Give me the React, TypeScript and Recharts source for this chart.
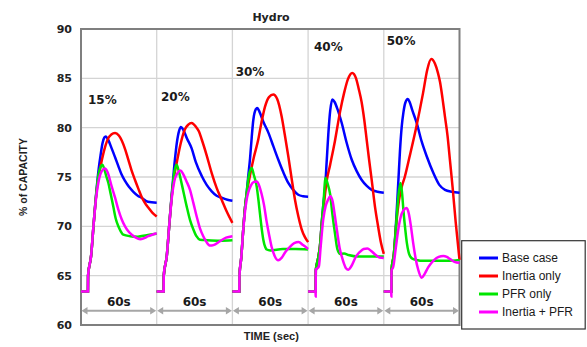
import React from 'react';
import { LineChart, Line, XAxis, YAxis, CartesianGrid, ReferenceLine, ReferenceDot, ReferenceArea } from 'recharts';

type Pt = [number, number];

// ---- data (time in seconds within each 60 s step, value in % of capacity) ----
const PANEL_SECONDS = 60;
const stepLabels = ['15%', '20%', '30%', '40%', '50%'];
const durationLabel = '60s';
const yTicks = [60, 65, 70, 75, 80, 85, 90];
const xTicks = [0, 60, 120, 180, 240, 300];
const seriesNames = ['Base case', 'Inertia only', 'PFR only', 'Inertia + PFR'];

const baseCase: Pt[][] = [
  [[0,63.4],[5.5,63.4],[5.6,65],[8,67],[10,70.2],[12,73.3],[14,75.8],[15.5,77.2],[17,78.4],[18.5,79],[19.6,79.1],[21,78.9],[24.3,77.9],[27,77],[29.6,76.1],[32,75.3],[34.9,74.6],[38,74],[41.5,73.5],[45,73.1],[48,72.9],[53,72.5],[60,72.4]],
  [[0,63.4],[5.5,63.4],[5.6,65],[8,67],[10,70.2],[12,73.4],[14,76.2],[16,78.5],[17.8,79.7],[19.2,80.07],[21,79.8],[24,78.9],[27.7,77.9],[31,76.5],[35.7,75.1],[39.6,74.2],[43.6,73.55],[47.5,73.1],[51.5,72.9],[56,72.7],[60,72.6]],
  [[0,63.4],[5.5,63.4],[5.6,65],[7,66.8],[8.6,69.7],[10,71.9],[11.3,73.4],[12.5,75],[14,76.9],[15.3,79],[16.5,80.7],[18,81.7],[19.7,82],[21.5,81.6],[24.5,80.6],[28.5,79.5],[32.5,78.1],[36.4,76.75],[40.3,75.5],[44.3,74.4],[48.2,73.7],[52.2,73.2],[56,73.05],[60,73]],
  [[0,63.4],[6,63.4],[6.1,65.5],[8,66.8],[9.4,68],[11,70.7],[12.2,72.4],[13.4,73.8],[14.7,76.5],[16,79.3],[17.5,81.7],[19.2,82.85],[21,82.6],[23.5,81.8],[26.6,80.5],[30.5,78.5],[34.6,76.75],[38.5,75.6],[42.5,74.7],[46.5,74.1],[50.4,73.7],[55,73.5],[60,73.4]],
  [[0,63.4],[6,63.4],[6.1,65.5],[8,67.2],[10,71],[11.5,74.5],[12.8,77.6],[14.2,80.1],[15.5,81.5],[17,82.5],[19,82.9],[20.5,82.6],[22.5,81.8],[26,80.5],[30,78.6],[34,77.1],[39.3,75.4],[44,74.2],[48.5,73.7],[54,73.5],[60,73.4]],
];

const inertiaOnly: Pt[][] = [
  [[0,63.4],[5.5,63.4],[5.6,65],[8,67],[10,70.2],[12,73.1],[14,75.1],[16,76.4],[19,78],[21.7,78.95],[24,79.3],[27,79.46],[30,79.2],[32.3,78.7],[35,77.8],[37.5,76.75],[40,75.7],[42.8,74.7],[45.5,73.8],[48,73],[50.5,72.4],[53.3,71.9],[56.5,71.4],[60,71]],
  [[0,63.4],[5.5,63.4],[5.6,65],[8,67],[10,70.2],[12,73.1],[14,75.2],[15.8,76.4],[19,78.4],[22.2,79.8],[25,80.3],[27.7,80.47],[31,80.1],[33.5,79.6],[35.7,78.8],[39.6,77.2],[43.6,75.4],[47.5,73.9],[51.5,72.7],[55.5,71.5],[60,70.35]],
  [[0,63.4],[5.5,63.4],[5.6,65],[7,66.8],[8.6,69.7],[10,71.9],[11.3,73.2],[12.5,74.2],[14,75.2],[17,77],[20.5,78.8],[23,80.5],[25.8,82.1],[29,83.1],[32.4,83.35],[35.5,82.9],[39,81.15],[41.5,79.3],[44.3,77.1],[47,74.8],[49.6,72.7],[52.3,71],[54.9,69.7],[57.5,68.9],[60,68.4]],
  [[0,63.4],[6,63.4],[6.1,65.5],[8,66.8],[9.4,68],[11,70.5],[12.5,72.2],[14.5,74.4],[17.4,76.2],[21.2,78.6],[25.3,81.6],[28.5,83.5],[31.5,84.9],[35,85.55],[38,85],[40,84],[42.4,82.6],[44.5,80.8],[46.4,78.8],[48.4,76.7],[50.4,74.7],[53,72],[55.6,69.9],[57.8,68.3],[60,67.2]],
  [[0,63.4],[6,63.4],[6.1,65.5],[8,67.2],[10,70.4],[12,72.6],[14,73.9],[16.6,75],[20.5,77.1],[25.8,80.1],[31.1,83.5],[34.5,85.9],[37.6,86.95],[40.5,86.5],[42.8,85.6],[44.6,84.6],[46.5,83],[48.5,81.1],[50.5,79.2],[52.5,76.6],[54.5,74],[57,70.4],[60,66.6]],
];

const pfrOnly: Pt[][] = [
  [[0,63.4],[5.5,63.4],[5.6,65],[8,67],[10,70.2],[12,73.2],[14,75.3],[15.5,76],[16.9,76.25],[18.5,75.8],[20,75.1],[21.7,74.4],[23.5,73.3],[25.6,72],[27.5,70.8],[29.6,70],[31.5,69.5],[33.5,69.15],[38.8,69],[45,68.95],[52,69.1],[60,69.25]],
  [[0,63.4],[5.5,63.4],[5.6,65],[8,67],[10,70.2],[12,73.2],[14,75.5],[15.8,76.25],[17.5,75.6],[20,74.2],[23.8,72],[26.5,70.6],[29,69.7],[31.5,69],[34.3,68.65],[40,68.6],[50,68.55],[60,68.6]],
  [[0,63.4],[5.5,63.4],[5.6,65],[7,66.8],[8.6,69.7],[10,71.9],[11.3,73.4],[13,75.1],[15.3,75.9],[17,75.2],[19.3,74],[20.7,72.6],[22,71.1],[23.3,69.7],[24.5,68.65],[26,67.9],[27.2,67.65],[30,67.55],[40,67.7],[50,67.7],[60,67.65]],
  [[0,63.4],[6,63.4],[6.1,65.5],[8,66.8],[9.4,68],[11,70.6],[12.2,72.4],[13.8,74.9],[15.5,74.3],[17.4,73.3],[19.3,71.2],[21.3,69.3],[23.2,67.7],[25.5,67.2],[28.5,67.25],[32,67.1],[40,66.95],[50,66.95],[60,66.95]],
  [[0,63.4],[6,63.4],[6.1,65.5],[8,67.2],[10,70.5],[11.5,73],[13.1,74.4],[14.3,73.6],[15.7,71.4],[17.1,69.6],[18.3,68.3],[19.6,67.4],[20.9,66.95],[23,66.7],[26,66.6],[30,66.5],[40,66.5],[50,66.5],[60,66.6]],
];

const inertiaPfr: Pt[][] = [
  [[0,63.4],[5.5,63.4],[5.6,65],[8,67],[10,70.2],[12,72.9],[14,74.6],[16.5,75.6],[19,75.85],[21,75.5],[24.3,74.05],[27,72.9],[29.6,71.7],[32.3,70.7],[34.9,70],[37.5,69.5],[40.2,69.15],[43.5,68.85],[46.8,68.7],[50,68.8],[53.3,69],[56.5,69.15],[60,69.3]],
  [[0,63.4],[5.5,63.4],[5.6,65],[8,67],[10,70.2],[12,72.9],[14,74.6],[16.5,75.4],[18.8,75.65],[21,75.3],[23.5,74.6],[26.4,73.7],[29,72.4],[31.7,71],[34.3,69.8],[36.9,69],[39.5,68.4],[42.2,68.05],[45,68.1],[50.2,68.5],[55,68.85],[60,69]],
  [[0,63.4],[5.5,63.4],[5.6,65],[7,66.8],[8.6,69.6],[10,71.5],[11.3,72.7],[12.5,73.4],[14.5,74.1],[17,74.5],[19.3,74.55],[21,74.2],[23.1,73.3],[25,72.2],[27.1,70.5],[29,69.2],[31.1,67.9],[33.5,67],[36.3,66.55],[39,66.8],[42,67.4],[45.4,67.9],[49,68.3],[52.5,68.4],[56,68.1],[60,67.7]],
  [[0,63.4],[5.9,63.4],[6,62.9],[6.1,65.6],[8.5,65.9],[10,68],[12,70.7],[14,72.1],[15.5,72.6],[17.7,73.05],[19.5,72.5],[21.3,71],[23.2,69.3],[25,67.8],[27,66.8],[28.5,66.2],[30,65.75],[31.9,65.6],[34,65.9],[37.8,66.9],[41,67.4],[44,67.7],[47,67.75],[50,67.5],[53.6,67.1],[56.5,66.85],[60,66.8]],
  [[0,63.4],[5.9,63.4],[6,62.9],[6.1,65.5],[7.5,65.9],[9.5,67.8],[11.5,69.7],[13.5,71],[15.5,71.6],[18.1,71.85],[19.8,71.3],[21.5,70],[23.3,68.3],[25.3,66.7],[27.3,65.6],[30,64.8],[32.5,65.2],[34.5,65.7],[36.6,66.1],[40,66.6],[43.5,66.9],[47.2,67],[50,66.9],[52.4,66.7],[56,66.4],[60,66.3]],
];

// ---- layout / style (kept apart from the data) ----
const W = 587;
const H = 347;
const COLORS = ['#0000ff', '#ff0000', '#00e600', '#ff00ff'];
const stepLabelAnchors = [
  { t: 5.5, v: 82.43 },
  { t: 63.4, v: 82.66 },
  { t: 122.6, v: 85.27 },
  { t: 184.7, v: 87.73 },
  { t: 242.3, v: 88.41 },
];
const ARROW_LEVEL = 61.45;
const BOLD = 'DejaVu Sans, Verdana, sans-serif';
const SANS = 'Liberation Sans, Arial, sans-serif';

type Row = { t: number; v: number | null };
function toRows(panels: Pt[][]): Row[] {
  const rows: Row[] = [];
  panels.forEach((pts, k) => {
    pts.forEach(([t, v]) => rows.push({ t: k * PANEL_SECONDS + t, v }));
    rows.push({ t: (k + 1) * PANEL_SECONDS, v: null });
  });
  return rows;
}

const seriesData = [baseCase, inertiaOnly, pfrOnly, inertiaPfr].map(toRows);

const ArrowShape = (p: any) => {
  const x1 = Number(p.x1), x2 = Number(p.x2), y = Number(p.y1);
  const h = 6.5, w = 3.8;
  const c = '#a6a6a6';
  return (
    <g>
      <line x1={x1 + h - 1} y1={y} x2={x2 - h + 1} y2={y} stroke={c} strokeWidth={2} />
      <polygon points={`${x1 + 0.5},${y} ${x1 + h},${y - w} ${x1 + h},${y + w}`} fill={c} />
      <polygon points={`${x2 - 0.5},${y} ${x2 - h},${y - w} ${x2 - h},${y + w}`} fill={c} />
      <text x={(x1 + x2) / 2} y={y - 4.5} textAnchor="middle" fontFamily={BOLD} fontWeight="bold" fontSize={12} fill="#1a1a1a">
        {durationLabel}
      </text>
    </g>
  );
};

const makeLabelShape = (label: string) => (p: any) => (
  <text x={p.cx} y={p.cy} fontFamily={BOLD} fontWeight="bold" fontSize={12} fill="#1a1a1a">
    {label}
  </text>
);

export default function App() {
  return (
    <div style={{ position: 'absolute', left: 0, top: 0, width: W, height: H, background: '#fff' }}>
      <LineChart width={W} height={H} margin={{ top: 29, right: 127.5, bottom: 22, left: 0.5 }}>
        <CartesianGrid stroke="#d4d4d4" strokeWidth={1.3} horizontalValues={[65, 70, 75, 80, 85]} verticalValues={[60, 120, 180, 240]} />
        <XAxis type="number" dataKey="t" domain={[0, 300]} ticks={xTicks} hide allowDuplicatedCategory={false} />
        <YAxis
          type="number"
          domain={[60, 90]}
          ticks={yTicks}
          width={80.5}
          axisLine={false}
          tickLine={false}
          tickMargin={3}
          interval={0}
          tick={{ fontFamily: BOLD, fontWeight: 'bold', fontSize: 11, fill: '#222' }}
        />
        <ReferenceArea x1={0} x2={300} y1={60} y2={90} fill="none" stroke="#7f7f7f" strokeWidth={2} ifOverflow="visible" />
        {stepLabels.map((_, k) => (
          <ReferenceLine
            key={'a' + k}
            segment={[{ x: k * PANEL_SECONDS, y: ARROW_LEVEL }, { x: (k + 1) * PANEL_SECONDS, y: ARROW_LEVEL }]}
            ifOverflow="visible"
            shape={ArrowShape}
          />
        ))}
        {stepLabels.map((lab, k) => (
          <ReferenceDot
            key={'l' + k}
            x={stepLabelAnchors[k].t}
            y={stepLabelAnchors[k].v}
            ifOverflow="visible"
            shape={makeLabelShape(lab)}
          />
        ))}
        {seriesData.map((rows, i) => (
          <Line
            key={seriesNames[i]}
            data={rows}
            dataKey="v"
            name={seriesNames[i]}
            type="monotone"
            stroke={COLORS[i]}
            strokeWidth={2.5}
            dot={false}
            activeDot={false}
            isAnimationActive={false}
            connectNulls={false}
          />
        ))}
      </LineChart>
      <svg width={W} height={H} style={{ position: 'absolute', left: 0, top: 0, pointerEvents: 'none' }}>
        <text x={271} y={21} textAnchor="middle" fontFamily={BOLD} fontWeight="bold" fontSize={11} fill="#222">Hydro</text>
        <text transform="translate(26.5,177) rotate(-90)" textAnchor="middle" fontFamily={SANS} fontWeight="bold" fontSize={10.5} fill="#222">% of CAPACITY</text>
        <text x={271.3} y={340} textAnchor="middle" fontFamily={SANS} fontWeight="bold" fontSize={11} fill="#222">TIME (sec)</text>
        <rect x={461.7} y={240.7} width={123.5} height={88.3} fill="#fff" stroke="#333" strokeWidth={1.2} />
        {seriesNames.map((n, i) => (
          <g key={n}>
            <line x1={479} x2={498} y1={258 + i * 18} y2={258 + i * 18} stroke={COLORS[i]} strokeWidth={3} />
            <text x={502} y={262.3 + i * 18} fontFamily={SANS} fontSize={12} fill="#1a1a1a">{n}</text>
          </g>
        ))}
      </svg>
    </div>
  );
}
